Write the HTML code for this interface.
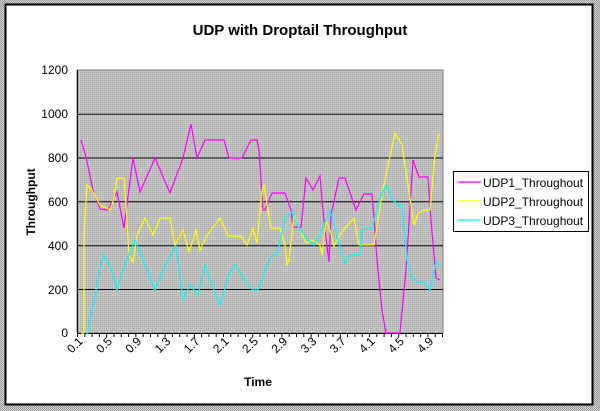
<!DOCTYPE html>
<html><head><meta charset="utf-8"><style>
html,body{margin:0;padding:0;background:#c4c4c4;}
svg{display:block;font-family:"Liberation Sans",Arial,sans-serif;}
</style></head><body>
<svg width="600" height="411" viewBox="0 0 600 411" xmlns="http://www.w3.org/2000/svg">
<defs>
<pattern id="chk" width="2" height="2" patternUnits="userSpaceOnUse"><rect width="2" height="2" fill="#d0d0d0"/><rect width="1" height="1" fill="#9a9a9a"/><rect x="1" y="1" width="1" height="1" fill="#9a9a9a"/></pattern>
<pattern id="dots" width="2" height="2" patternUnits="userSpaceOnUse"><rect width="2" height="2" fill="#c4c4c4"/><rect width="1" height="1" fill="#a8a8a8"/></pattern>
</defs>
<rect width="600" height="411" fill="url(#chk)"/>
<rect x="5.5" y="4.5" width="587" height="400" fill="#fff" stroke="#000" stroke-width="2"/>
<text x="300" y="35" text-anchor="middle" font-size="15" font-weight="bold">UDP with Droptail Throughput</text>
<rect x="77" y="70" width="366" height="263" fill="url(#dots)" stroke="#808080" stroke-width="1"/>
<g stroke="#000" stroke-width="1">
<line x1="77" y1="114.2" x2="443" y2="114.2"/>
<line x1="77" y1="158" x2="443" y2="158"/>
<line x1="77" y1="201.8" x2="443" y2="201.8"/>
<line x1="77" y1="245.7" x2="443" y2="245.7"/>
<line x1="77" y1="289.5" x2="443" y2="289.5"/>
<line x1="77.5" y1="70" x2="77.5" y2="333"/>
<line x1="77" y1="333.5" x2="443" y2="333.5"/>
</g>
<g font-size="12" text-anchor="end">
<text x="68" y="74">1200</text><text x="68" y="118">1000</text><text x="68" y="162">800</text>
<text x="68" y="206">600</text><text x="68" y="250">400</text><text x="68" y="294">200</text><text x="68" y="337">0</text>
</g>
<g stroke="#000" stroke-width="1" id="ticks"></g>
<text transform="translate(35,202) rotate(-90)" text-anchor="middle" font-size="12" font-weight="bold">Throughput</text>
<text x="258" y="386" text-anchor="middle" font-size="12" font-weight="bold">Time</text>
<g id="xl" font-size="12" text-anchor="end"></g>
<g fill="none" stroke-width="1.2">
<polyline stroke="#ff00ff" points="81,140 86,157 93,190 100,209 108,210 117,192 124,228 133,158 140,192 155,158 170,193 183,158 191,124 197,158 205,140 224,140 229,158 242,158 251,140 257,140 259,150 263,210 265,210 272,193 285,193 291,210 293,227 301,227 306,178 313,190 320,176 322,200 325,230 329,262 331,215 339,178 345,178 356,210 364,194 372,194 375,230 377,260 382,310 386,333 400,333 406,270 413,160 419,177 428,177 431,220 436,278 440,280"/>
<polyline stroke="#ffff00" points="81,333 84,333 84,240 85,214 87,185 92,190 100,205 110,210 114,198 117,178 124,178 126,205 129,255 133,262 137,235 145,218 153,235 160,218 170,218 175,245 183,230 189,252 196,230 200,250 207,235 220,218 228,236 241,236 247,245 253,228 257,243 262,190 264,185 268,210 271,228 280,228 285,245 287,265 289,260 294,215 300,230 306,243 312,240 320,245 322,255 326,220 330,230 334,246 343,230 354,218 359,245 364,245 374,245 382,195 388,165 395,133 402,145 408,185 414,225 418,213 424,210 430,210 435,155 439,133"/>
<polyline stroke="#00ffff" points="86,333 88,333 90,320 95,295 103,255 110,265 113,275 117,290 126,262 135,240 140,252 155,290 167,262 176,246 183,300 190,285 198,295 205,265 212,285 220,305 229,275 235,265 248,285 253,290 258,290 267,265 272,255 277,255 285,218 292,212 300,230 308,240 314,245 320,235 330,210 338,240 345,263 350,255 360,255 362,230 372,228 380,198 386,185 393,200 398,205 402,205 407,260 412,278 418,282 424,282 430,290 436,262 440,265"/>
</g>
<rect x="453.5" y="171.5" width="135" height="60" fill="#fff" stroke="#000"/>
<g font-size="12">
<line x1="458" y1="182" x2="481" y2="182" stroke="#ff00ff" stroke-width="1.2"/><text x="483" y="187">UDP1_Throughout</text>
<line x1="458" y1="201" x2="481" y2="201" stroke="#ffff00" stroke-width="1.2"/><text x="483" y="206">UDP2_Throughout</text>
<line x1="458" y1="220" x2="481" y2="220" stroke="#00ffff" stroke-width="1.2"/><text x="483" y="225">UDP3_Throughout</text>
</g>
<script>
var t=document.getElementById('ticks'),xl=document.getElementById('xl'),ns='http://www.w3.org/2000/svg';
for(var i=0;i<=50;i++){var x=77.5+i*7.3;var l=document.createElementNS(ns,'line');l.setAttribute('x1',x);l.setAttribute('x2',x);l.setAttribute('y1',333);l.setAttribute('y2',337);t.appendChild(l);}
for(var i=0;i<50;i+=4){var cx=77+7.3*(i+0.5)+3;var tx=document.createElementNS(ns,'text');tx.setAttribute('transform','translate('+cx+',342) rotate(-45)');tx.textContent=((i+1)/10).toFixed(1);xl.appendChild(tx);}
</script>
</svg>
</body></html>
